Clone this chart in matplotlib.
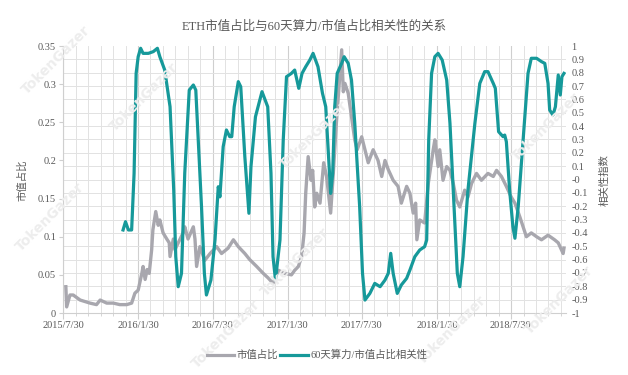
import numpy as np
import pandas as pd
import matplotlib
matplotlib.use('Agg')
import matplotlib.pyplot as plt
from matplotlib.lines import Line2D

# days after 2015/7/30 and values
share_days = [7, 9, 17, 25, 42, 66, 82, 91, 107, 123, 139, 156, 168, 176, 184, 193, 196, 201,
              206, 211, 217, 220, 227, 233, 237, 245, 254, 260, 262, 270, 274, 282, 294, 298,
              306, 319, 323, 327, 335, 347, 360, 376, 388, 404, 417, 429, 445, 457, 474, 490,
              502, 514, 527, 543, 559, 567, 576, 584, 590, 594, 600, 607, 611, 616, 621, 629,
              638, 645, 655, 661, 669, 678, 682, 686, 690, 698, 706, 714, 720, 731, 739, 747,
              759, 771, 780, 788, 796, 808, 820, 828, 841, 849, 857, 863, 866, 873, 885, 894,
              906, 910, 918, 922, 930, 939, 947, 955, 963, 971, 983, 991, 1000, 1012, 1024,
              1040, 1053, 1061, 1073, 1085, 1097, 1106, 1118, 1126, 1134, 1146, 1159, 1171,
              1187, 1203, 1212, 1224, 1226]
share_vals = [0.0345, 0.008, 0.0236, 0.0236, 0.017, 0.013, 0.011, 0.017, 0.013, 0.013, 0.011,
              0.011, 0.013, 0.026, 0.030, 0.052, 0.061, 0.044, 0.057, 0.052, 0.083, 0.109,
              0.133, 0.115, 0.122, 0.105, 0.097, 0.092, 0.074, 0.097, 0.083, 0.092, 0.105,
              0.113, 0.097, 0.113, 0.097, 0.061, 0.087, 0.069, 0.078, 0.087, 0.078, 0.085,
              0.096, 0.087, 0.078, 0.070, 0.061, 0.052, 0.046, 0.039, 0.056, 0.052, 0.050,
              0.056, 0.061, 0.074, 0.105, 0.157, 0.205, 0.174, 0.187, 0.139, 0.157, 0.144,
              0.197, 0.179, 0.131, 0.179, 0.249, 0.315, 0.345, 0.29, 0.301, 0.288, 0.257,
              0.227, 0.214, 0.231, 0.214, 0.197, 0.214, 0.2, 0.179, 0.2, 0.188, 0.174, 0.166,
              0.144, 0.166, 0.157, 0.131, 0.144, 0.096, 0.122, 0.118, 0.17, 0.214, 0.227,
              0.192, 0.214, 0.174, 0.192, 0.187, 0.17, 0.148, 0.139, 0.161, 0.152, 0.17,
              0.183, 0.174, 0.183, 0.179, 0.187, 0.179, 0.166, 0.152, 0.144, 0.126, 0.113,
              0.1, 0.105, 0.1, 0.096, 0.102, 0.096, 0.092, 0.078, 0.085]

corr_days = [147, 153, 160, 168, 174, 179, 184, 190, 196, 209, 221, 231, 237, 249, 262, 271,
             276, 282, 290, 298, 309, 319, 325, 331, 339, 346, 351, 362, 372, 380, 384, 392,
             400, 408, 413, 419, 429, 435, 445, 455, 460, 471, 487, 501, 509, 514, 520, 531,
             539, 547, 559, 567, 577, 585, 594, 604, 612, 624, 635, 643, 655, 660, 665, 671,
             682, 688, 698, 706, 714, 726, 733, 739, 751, 763, 776, 788, 796, 802, 808, 818,
             828, 841, 849, 861, 873, 885, 890, 895, 902, 910, 918, 928, 939, 947, 957, 965,
             971, 979, 991, 1008, 1020, 1032, 1040, 1053, 1058, 1066, 1077, 1081, 1085, 1093,
             1101, 1106, 1114, 1126, 1138, 1146, 1159, 1171, 1179, 1187, 1191, 1199, 1205,
             1212, 1217, 1221, 1226]
corr_vals = [-0.378, -0.316, -0.378, -0.378, 0.046, 0.795, 0.92, 0.983, 0.945, 0.945, 0.958,
             0.983, 0.92, 0.82, 0.545, -0.079, -0.578, -0.803, -0.703, 0.049, 0.67, 0.708,
             0.67, 0.296, -0.204, -0.703, -0.865, -0.753, -0.453, -0.054, -0.13, 0.246, 0.371,
             0.321, 0.321, 0.545, 0.733, 0.695, 0.171, -0.253, 0.096, 0.47, 0.658, 0.545,
             0.046, -0.578, -0.753, -0.453, 0.296, 0.77, 0.795, 0.82, 0.683, 0.795, 0.845,
             0.895, 0.945, 0.845, 0.646, 0.545, -0.104, 0.046, 0.545, 0.795, 0.87, 0.92,
             0.87, 0.745, 0.421, -0.204, -0.703, -0.903, -0.853, -0.778, -0.803, -0.753,
             -0.703, -0.553, -0.703, -0.853, -0.79, -0.74, -0.678, -0.578, -0.528, -0.503,
             -0.453, 0.296, 0.795, 0.92, 0.945, 0.895, 0.745, 0.421, -0.204, -0.703, -0.803,
             -0.578, -0.079, 0.421, 0.72, 0.808, 0.808, 0.72, 0.683, 0.358, 0.321, 0.333,
             0.283, -0.079, -0.353, -0.44, -0.204, 0.296, 0.795, 0.908, 0.908, 0.883, 0.87,
             0.72, 0.52, 0.483, 0.545, 0.783, 0.633, 0.77, 0.795]

tick_labels = ['2015/7/30', '2016/1/30', '2016/7/30', '2017/1/30', '2017/7/30',
               '2018/1/30', '2018/7/30']
left_ticks = [0, 0.05, 0.1, 0.15, 0.2, 0.25, 0.3, 0.35]
right_ticks = [round(v, 1) for v in np.arange(-1, 1.01, 0.1)]

start = pd.Timestamp('2015-07-30')
x_share = start + pd.to_timedelta(share_days, unit='D')
x_corr = start + pd.to_timedelta(corr_days, unit='D')

serif = ['Liberation Serif', 'Noto Sans CJK SC']
txt = '#595959'
grey = '#a8a7ae'
teal = '#16999a'

fig = plt.figure(figsize=(6.28, 3.75), dpi=100)
ax = fig.add_axes([0.1003, 0.1653, 0.8010, 0.7120])
ax2 = ax.twinx()

# faint watermarks
for wx, wy in [(0.09, 0.84), (0.23, 0.74), (0.50, 0.64), (0.87, 0.66), (0.08, 0.42),
               (0.47, 0.30), (0.89, 0.20), (0.36, 0.11), (0.72, 0.12)]:
    fig.text(wx, wy, 'TokenGazer', rotation=45, fontsize=10, color='#ededed',
             ha='center', va='center', fontweight='bold', zorder=0)

ax.plot(x_share, share_vals, color=grey, lw=2.4, zorder=3)
ax2.plot(x_corr, corr_vals, color=teal, lw=2.3, zorder=3)

major = [start + pd.DateOffset(months=6 * i) for i in range(7)]
minor = [start + pd.DateOffset(months=i) for i in range(41)]
ax.set_xlim(start, start + pd.Timedelta(days=1231))
ax.set_xticks(major)
ax.set_xticklabels(tick_labels)
ax.set_xticks(minor, minor=True)
ax.set_ylim(0, 0.35)
ax.set_yticks(left_ticks)
ax.set_yticklabels(['0', '0.05', '0.1', '0.15', '0.2', '0.25', '0.3', '0.35'])
ax.set_yticks(np.linspace(0, 0.35, 21), minor=True)
ax.grid(which='minor', color='#e2e2e2', lw=0.7)
ax.grid(which='major', axis='x', color='#cfcfcf', lw=0.8)
ax.grid(which='major', axis='y', visible=False)
ax.set_axisbelow(True)

ax2.set_ylim(-1, 1)
ax2.set_yticks(right_ticks)
ax2.set_yticklabels(['%g' % v for v in right_ticks])

for a in (ax, ax2):
    for s in a.spines.values():
        s.set_visible(False)
ax.spines['left'].set_visible(True)
ax.spines['bottom'].set_visible(True)
ax.spines['left'].set_color('#cfcfcf')
ax.spines['bottom'].set_color('#cfcfcf')

ax.tick_params(axis='x', which='major', length=4, color='#cfcfcf', labelsize=7.5,
               labelcolor=txt, pad=2)
ax.tick_params(axis='x', which='minor', length=2, color='#cfcfcf')
ax.tick_params(axis='y', which='major', length=3, color='#cfcfcf', labelsize=7.5,
               labelcolor=txt, pad=2)
ax.tick_params(axis='y', which='minor', length=0)
ax2.tick_params(axis='y', length=0, labelsize=7.5, labelcolor=txt, pad=4)
for lab in ax.get_xticklabels() + ax.get_yticklabels() + ax2.get_yticklabels():
    lab.set_family(serif)

fig.text(0.5, 0.928, 'ETH市值占比与60天算力/市值占比相关性的关系', family=serif,
         fontsize=9, color=txt, ha='center', va='center')
fig.text(0.035, 0.52, '市值占比', family=serif, fontsize=7.5, color=txt,
         rotation=90, ha='center', va='center')
fig.text(0.963, 0.52, '相关性指数', family=serif, fontsize=7.5, color=txt,
         rotation=90, ha='center', va='center')

handles = [Line2D([], [], color=grey, lw=2.3), Line2D([], [], color=teal, lw=2.3)]
fig.legend(handles, ['市值占比', '60天算力/市值占比相关性'], loc='center',
           bbox_to_anchor=(0.505, 0.053), ncol=2, frameon=False, handlelength=2.6,
           columnspacing=0.2, handletextpad=0.3, prop={'family': serif, 'size': 7.5},
           labelcolor=txt)

fig.savefig('out.png', dpi=100)
